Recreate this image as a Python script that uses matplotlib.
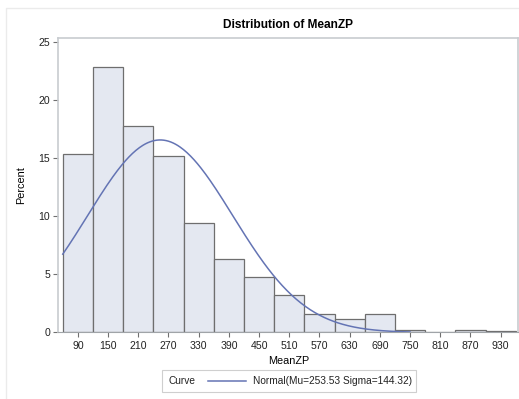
import numpy as np
import matplotlib
matplotlib.use("Agg")
import matplotlib.pyplot as plt
from matplotlib.patches import Rectangle
from matplotlib.lines import Line2D

plt.rcParams['font.family'] = ['Liberation Sans', 'DejaVu Sans']

# Histogram of MeanZP (percent per bin, bin width 60)
bin_mid = np.array([90, 150, 210, 270, 330, 390, 450, 510, 570, 630,
                    690, 750, 810, 870, 930])
percent = np.array([15.4, 22.9, 17.8, 15.2, 9.4, 6.3, 4.8, 3.2, 1.6, 1.2,
                    1.6, 0.2, 0.0, 0.2, 0.15])
bin_width = 60

# fitted normal
mu = 253.53
sd = 144.32

fig = plt.figure(figsize=(5.19, 3.99), dpi=100)
ax = fig.add_axes([0.1127, 0.1667, 0.8863, 0.739])

ax.bar(bin_mid, percent, width=bin_width, color='#E4E8F1',
       edgecolor='#6E6E6E', linewidth=0.9, zorder=2)

xc = np.linspace(60, 750, 300)
yc = 100 * bin_width * np.exp(-0.5 * ((xc - mu) / sd) ** 2) / (sd * np.sqrt(2 * np.pi))
ax.plot(xc, yc, color='#6474B4', linewidth=1.1, zorder=3)

ax.set_xlim(51.5, 965.5)
ax.set_ylim(0, 25.4)
ax.set_xticks(bin_mid)
ax.set_yticks([0, 5, 10, 15, 20, 25])

for s in ['left', 'top', 'right']:
    ax.spines[s].set_color('#C8CCD0')
    ax.spines[s].set_linewidth(1.2)
ax.spines['bottom'].set_color('#A0A4A8')
ax.tick_params(axis='both', labelsize=7.6, color='#707070', length=3.5,
               width=0.8, labelcolor='#222222', pad=2.5)

ax.set_title('Distribution of MeanZP', fontsize=8.6, fontweight='bold', pad=7)
ax.set_xlabel('MeanZP', fontsize=7.8, labelpad=4)
ax.set_ylabel('Percent', fontsize=7.8, labelpad=9)

# legend box under the axis
fig.patches.append(Rectangle((0.312, 0.0175), 0.489, 0.055, transform=fig.transFigure,
                             facecolor='white', edgecolor='#CFCFCF', linewidth=0.8))
fig.text(0.3237, 0.0451, 'Curve', fontsize=7.3, va='center', color='#222222')
fig.add_artist(Line2D([0.4008, 0.474], [0.0451, 0.0451], transform=fig.transFigure,
                      color='#6474B4', linewidth=1.1))
fig.text(0.4875, 0.0451, 'Normal(Mu=253.53 Sigma=144.32)', fontsize=7.3,
         va='center', color='#222222')

# faint outer border
fig.patches.append(Rectangle((6 / 519, -0.1), 1.2, 1.1 - 8 / 399, transform=fig.transFigure,
                             fill=False, edgecolor='#EBEBEB', linewidth=1))

fig.savefig('out.png', dpi=100)
